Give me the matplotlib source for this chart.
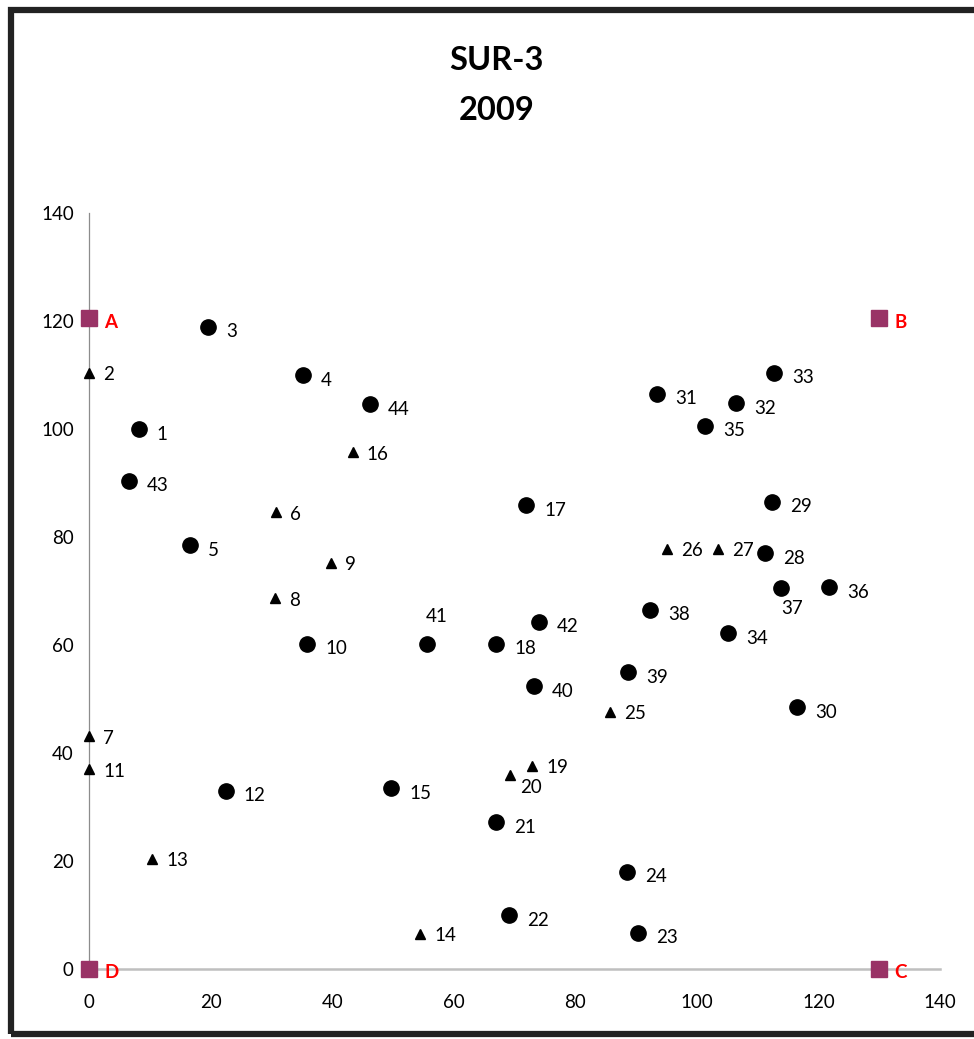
#! /usr/bin/env python
# SUR-3 2009 : plan de position des points

import matplotlib
matplotlib.use("Agg")
import matplotlib.pyplot as plt
from matplotlib.patches import Rectangle

plt.rcParams['font.family'] = ['Lato', 'DejaVu Sans']

# Points ronds
#------------------------------------------------------------------
circ_lab = ["1", "3", "4", "5", "10", "12", "15", "17", "18", "21", "22", "23",
            "24", "28", "29", "30", "31", "32", "33", "34", "35", "36", "37",
            "38", "39", "40", "41", "42", "43", "44"]
circ_x = [8.2, 19.6, 35.2, 16.6, 35.9, 22.5, 49.7, 71.9, 67.0, 67.0, 69.1, 90.3,
          88.5, 111.2, 112.4, 116.5, 93.4, 106.4, 112.7, 105.1, 101.3, 121.7, 113.8,
          92.3, 88.7, 73.2, 55.6, 74.0, 6.6, 46.2]
circ_y = [100.0, 118.9, 110.0, 78.5, 60.2, 33.0, 33.5, 85.9, 60.2, 27.2, 10.0, 6.7,
          18.0, 77.0, 86.5, 48.5, 106.5, 104.8, 110.4, 62.2, 100.6, 70.7, 70.6,
          66.5, 55.0, 52.4, 60.2, 64.3, 90.4, 104.6]

# Points triangles
#------------------------------------------------------------------
tri_lab = ["2", "6", "7", "8", "9", "11", "13", "14", "16", "19", "20", "25", "26", "27"]
tri_x = [0, 30.8, 0, 30.6, 39.8, 0, 10.4, 54.5, 43.4, 72.9, 69.3, 85.7, 95.1, 103.5]
tri_y = [110.4, 84.6, 43.1, 68.7, 75.2, 37.0, 20.4, 6.5, 95.7, 37.6, 35.9, 47.6, 77.8, 77.8]

# Coins
#------------------------------------------------------------------
cor_lab = ["A", "B", "C", "D"]
cor_x = [0, 130, 130, 0]
cor_y = [120.5, 120.5, 0, 0]

ticks = [0, 20, 40, 60, 80, 100, 120, 140]

# Tracer le graphique
#------------------------------------------------------------------
fig = plt.figure(figsize=(9.74, 10.39), dpi=100)
ax = fig.add_axes([89/974., 1-969/1039., 851/974., 756/1039.])

ax.plot(circ_x, circ_y, 'o', color='black', ms=11, mec='black', clip_on=False, zorder=3)
ax.plot(tri_x, tri_y, '^', color='black', ms=7.5, mec='black', clip_on=False, zorder=3)
ax.plot(cor_x, cor_y, 's', color='#993366', ms=11, mec='#993366', clip_on=False, zorder=4)

fs = 13.5
# etiquettes (decalage en pixels)
special = {"41": (10, 27, 'center'), "37": (11, -21, 'center'), "20": (10, -12, 'left')}
for l, x, y in zip(circ_lab, circ_x, circ_y):
    dx, dy, ha = special.get(l, (18, -5, 'left'))
    ax.annotate(l, (x, y), xytext=(dx, dy), textcoords='offset pixels',
                ha=ha, va='center', fontsize=fs)
for l, x, y in zip(tri_lab, tri_x, tri_y):
    dx, dy, ha = special.get(l, (14, -2, 'left'))
    ax.annotate(l, (x, y), xytext=(dx, dy), textcoords='offset pixels',
                ha=ha, va='center', fontsize=fs)
for l, x, y in zip(cor_lab, cor_x, cor_y):
    ax.annotate(l, (x, y), xytext=(15, -4), textcoords='offset pixels',
                ha='left', va='center', fontsize=fs, color='red', weight='bold')

ax.set_xlim(0, 140)
ax.set_ylim(0, 140)
ax.set_xticks(ticks)
ax.set_yticks(ticks)
ax.tick_params(length=0, labelsize=fs)
ax.tick_params(axis='x', pad=18)
ax.tick_params(axis='y', pad=11)
ax.spines['top'].set_visible(False)
ax.spines['right'].set_visible(False)
ax.spines['left'].set_color('#8c8c8c')
ax.spines['left'].set_linewidth(0.9)
ax.spines['bottom'].set_color('#bfbfbf')
ax.spines['bottom'].set_linewidth(1.8)

fig.text(0.51, 1-61/1039., "SUR-3", ha='center', va='center', fontsize=23.5, weight='bold')
fig.text(0.51, 1-110/1039., "2009", ha='center', va='center', fontsize=23.5, weight='bold')

# cadre
fig.patches.append(Rectangle((11/974., 5/1039.), 1.2, 1024/1039., transform=fig.transFigure,
                             fill=False, ec='#222222', lw=4.5, clip_on=False))

fig.savefig("out.png", dpi=100)
#------------------------------------------------------------------
